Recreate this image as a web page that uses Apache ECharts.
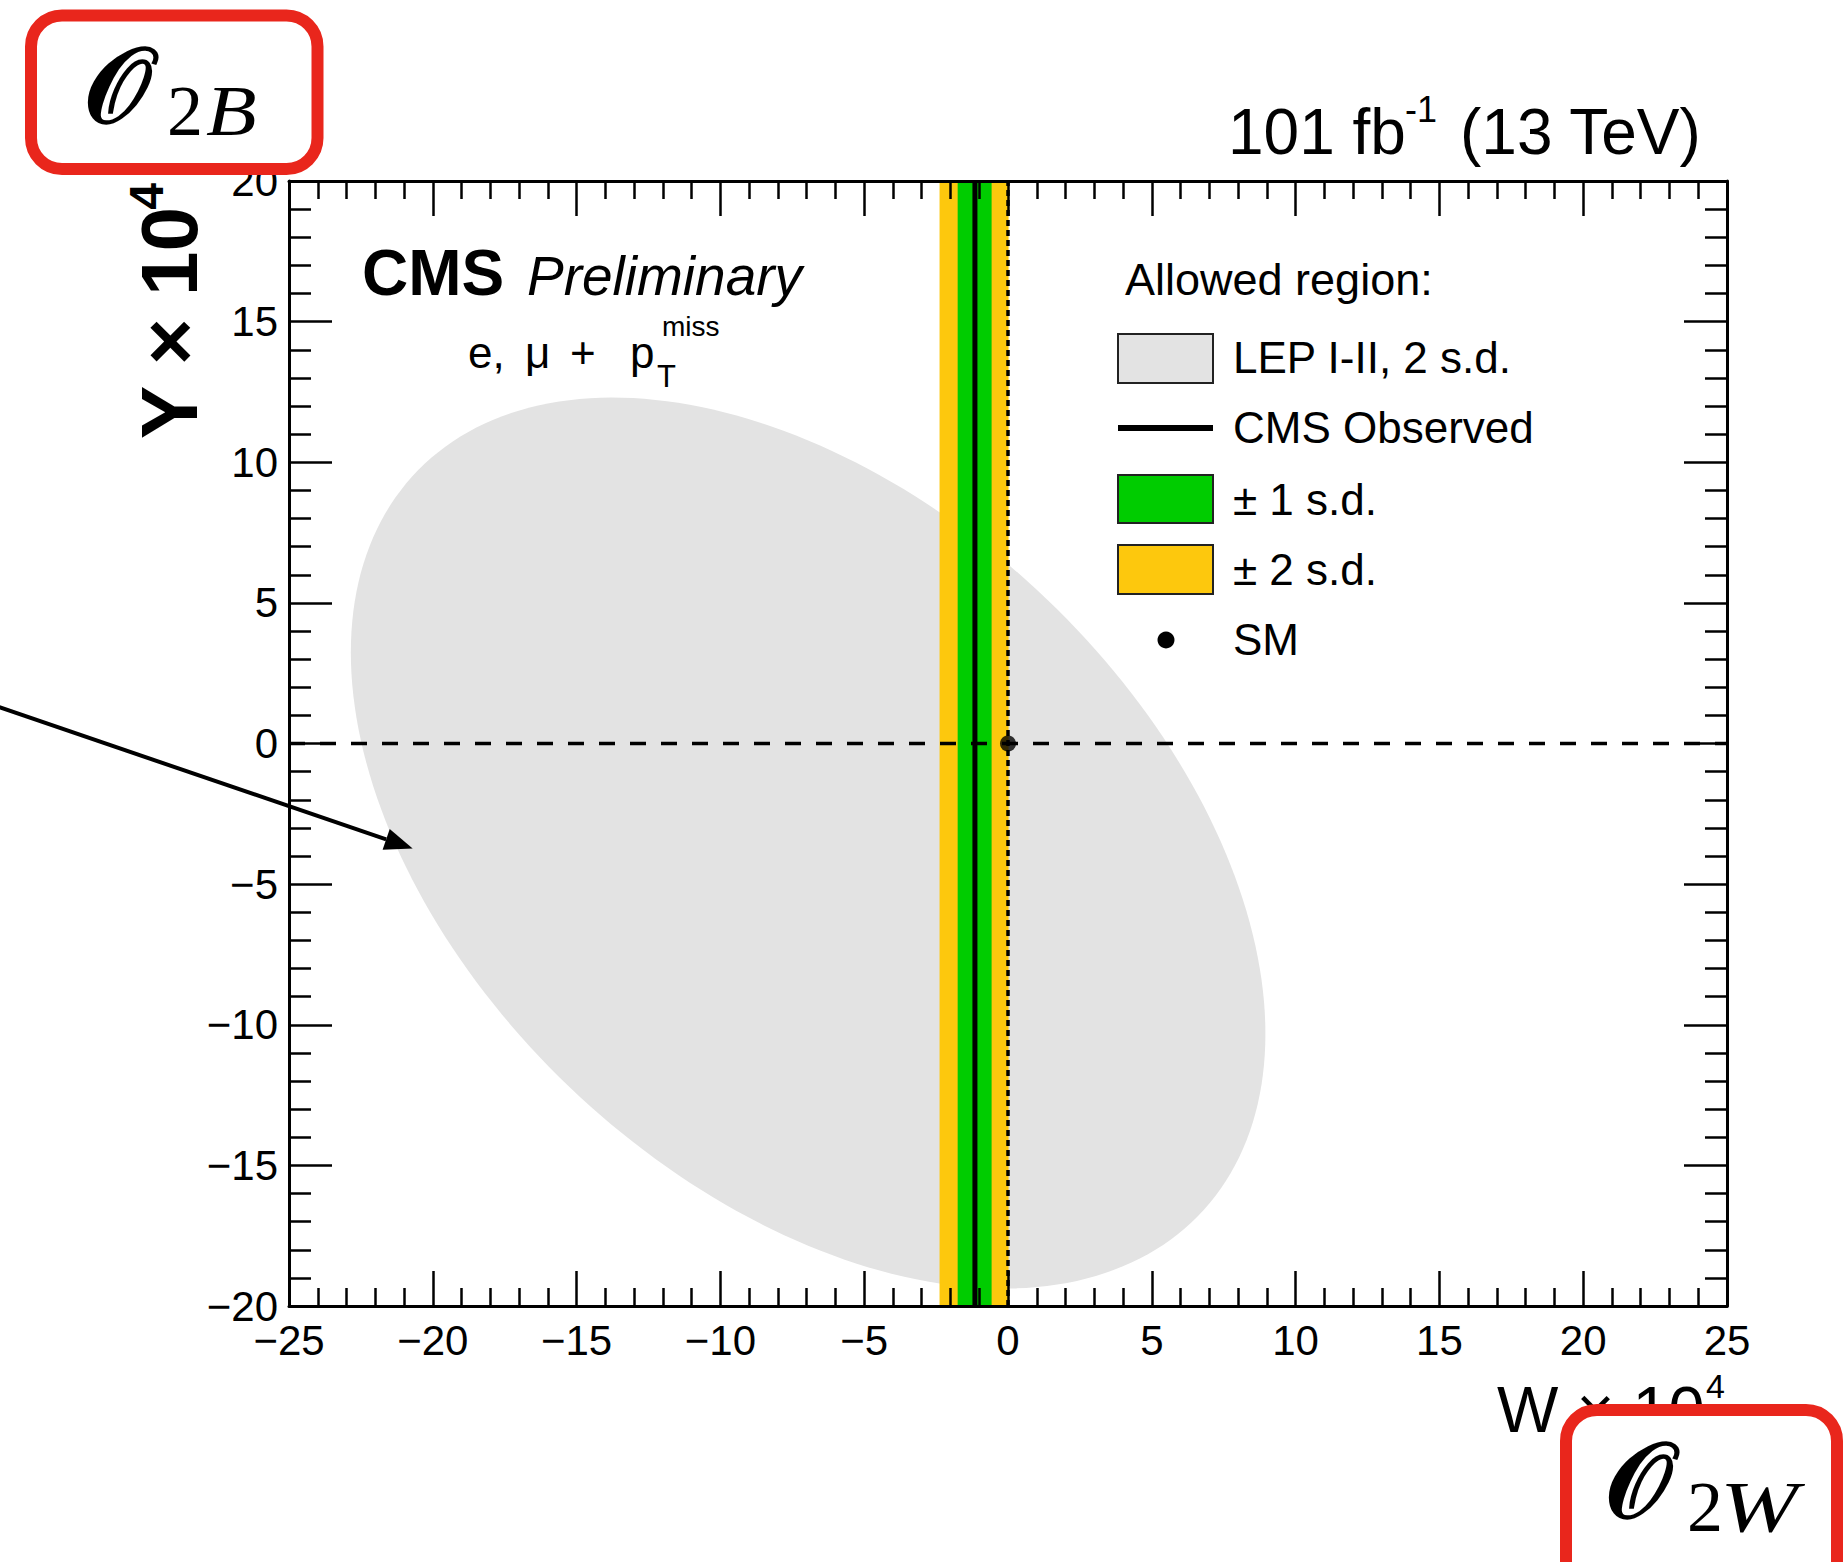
<!DOCTYPE html>
<html>
<head>
<meta charset="utf-8">
<script src="https://cdn.jsdelivr.net/npm/echarts@6/dist/echarts.min.js"></script>
<style>
  html, body { margin: 0; padding: 0; background: #fff; }
  #chart { width: 1845px; height: 1562px; }
</style>
</head>
<body>
<div id="chart"></div>
<script>
// Axis ranges, in units of 10^-4
const wRange = [-25, 25];
const yRange = [-20, 20];
const tickStep = 5;

// CMS observed W with its +-1 and +-2 s.d. intervals
const cmsObservedW = -1.15;
const cmsBand1sd = [-1.75, -0.57];
const cmsBand2sd = [-2.38, 0.02];

// Standard Model point (W, Y)
const smPoint = [0, 0];

// LEP I-II 2 s.d. allowed ellipse: centre, half extents along W and Y, correlation
const lepCenter = [-6.95, -3.54];
const lepHalfExtent = [15.9, 15.84];
const lepCorrelation = -0.428;

// Annotation arrow towards the LEP region, in (W, Y)
const arrowStart = [-35.1, 1.3];
const arrowEnd = [-20.7, -3.73];

const SANS = "'Liberation Sans', Arial, Helvetica, sans-serif";
const SERIF = "'Liberation Serif', 'DejaVu Serif', 'Times New Roman', serif";
const MATH = "'DejaVu Serif', 'DejaVu Sans', 'Liberation Serif', serif";

const chart = echarts.init(document.getElementById('chart'), null, { renderer: 'svg' });

const minus = v => String(v).replace('-', '\u2212');

function xAxisDef(position, showLabels) {
  return {
    type: 'value', position, min: wRange[0], max: wRange[1], interval: tickStep, z: 10,
    axisLine: { onZero: false, lineStyle: { color: '#000', width: 3 } },
    axisTick: { inside: true, length: 35, lineStyle: { color: '#000', width: 2.5 } },
    minorTick: { show: true, splitNumber: 5, length: 18, lineStyle: { color: '#000', width: 2.5 } },
    splitLine: { show: false }, minorSplitLine: { show: false },
    axisLabel: {
      show: showLabels, fontSize: 42, color: '#000', fontFamily: SANS, margin: 13,
      showMinLabel: true, showMaxLabel: true, formatter: minus
    }
  };
}
function yAxisDef(position, showLabels) {
  return {
    type: 'value', position, min: yRange[0], max: yRange[1], interval: tickStep, z: 10,
    axisLine: { onZero: false, lineStyle: { color: '#000', width: 3 } },
    axisTick: { inside: true, length: 43, lineStyle: { color: '#000', width: 2.5 } },
    minorTick: { show: true, splitNumber: 5, length: 22, lineStyle: { color: '#000', width: 2.5 } },
    splitLine: { show: false }, minorSplitLine: { show: false },
    axisLabel: {
      show: showLabels, fontSize: 42, color: '#000', fontFamily: SANS, margin: 11,
      padding: [10, 0, 0, 0], showMinLabel: true, showMaxLabel: true, formatter: minus
    }
  };
}

// Vertical band spanning the full Y range
function bandRenderer(color) {
  return function (params, api) {
    const a = api.coord([api.value(0), yRange[1]]);
    const b = api.coord([api.value(1), yRange[0]]);
    return { type: 'rect', shape: { x: a[0], y: a[1], width: b[0] - a[0], height: b[1] - a[1] }, style: { fill: color } };
  };
}

// 2 s.d. ellipse from centre, half extents and correlation
function ellipseRenderer(params, api) {
  const pts = [];
  const n = 240;
  const s = Math.sqrt(1 - lepCorrelation * lepCorrelation);
  for (let k = 0; k < n; k++) {
    const t = 2 * Math.PI * k / n;
    const w = api.value(0) + lepHalfExtent[0] * Math.cos(t);
    const y = api.value(1) + lepHalfExtent[1] * (lepCorrelation * Math.cos(t) + s * Math.sin(t));
    pts.push(api.coord([w, y]));
  }
  return { type: 'polygon', shape: { points: pts }, style: { fill: '#e3e3e3' } };
}

chart.setOption({
  animation: false,
  backgroundColor: '#fff',
  grid: { left: 289, top: 181, width: 1438, height: 1125, containLabel: false, outerBoundsMode: 'none' },
  xAxis: [xAxisDef('bottom', true), xAxisDef('top', false)],
  yAxis: [yAxisDef('left', true), yAxisDef('right', false)],
  series: [
    { type: 'custom', name: 'LEP I-II, 2 s.d.', renderItem: ellipseRenderer, data: [lepCenter], silent: true, z: 1 },
    { type: 'custom', name: '\u00b1 2 s.d.', renderItem: bandRenderer('#fdc80d'), data: [cmsBand2sd], silent: true, z: 2 },
    { type: 'custom', name: '\u00b1 1 s.d.', renderItem: bandRenderer('#00cc00'), data: [cmsBand1sd], silent: true, z: 3 },
    { type: 'line', symbol: 'none', silent: true, z: 4,
      data: [[wRange[0], smPoint[1]], [wRange[1], smPoint[1]]],
      lineStyle: { color: '#000', width: 3.5, type: [16, 15] } },
    { type: 'line', symbol: 'none', silent: true, z: 4,
      data: [[smPoint[0], yRange[0]], [smPoint[0], yRange[1]]],
      lineStyle: { color: '#000', width: 3.5, type: [6, 4] } },
    { type: 'line', name: 'CMS Observed', symbol: 'none', silent: true, z: 5,
      data: [[cmsObservedW, yRange[0]], [cmsObservedW, yRange[1]]],
      lineStyle: { color: '#000', width: 5 } },
    { type: 'scatter', name: 'SM', data: [smPoint], symbolSize: 16, itemStyle: { color: '#000' }, silent: true, z: 6 }
  ]
});

// text placed by its baseline
function txt(x, baseline, text, size, extra) {
  const st = Object.assign({ text, fontSize: size, fontFamily: SANS, fill: '#000',
    align: 'left', verticalAlign: 'middle', textAlign: 'left', textVerticalAlign: 'middle' }, extra || {});
  if (st.align !== 'left') st.textAlign = st.align;
  return { type: 'text', x, y: baseline - 0.35 * size, z: 50, style: st, silent: true };
}
function rotTxt(baselineX, endY, text, size, extra) {
  const st = Object.assign({ text, fontSize: size, fontFamily: SANS, fill: '#000',
    align: 'right', verticalAlign: 'middle', textAlign: 'right', textVerticalAlign: 'middle' }, extra || {});
  return { type: 'text', x: baselineX - 0.35 * size, y: endY, rotation: Math.PI / 2, z: 50, style: st, silent: true };
}
// symbols inside the red operator tags
function tagTxt(x, baseline, text, size, extra, scaleX) {
  const el = txt(x, baseline, text, size, Object.assign({ lineHeight: Math.round(size * 0.7) }, extra));
  el.z = 95;
  if (scaleX) el.scaleX = scaleX;
  return el;
}

const p0 = chart.convertToPixel({ gridIndex: 0 }, arrowStart);
const p1 = chart.convertToPixel({ gridIndex: 0 }, arrowEnd);
const dx = p1[0] - p0[0], dy = p1[1] - p0[1];
const len = Math.hypot(dx, dy);
const ux = dx / len, uy = dy / len;
const headLen = 28, headHalf = 11;
const base = [p1[0] - ux * headLen, p1[1] - uy * headLen];

const graphics = [
  // header
  txt(1228, 154, '101 fb', 64),
  txt(1405, 122, '-1', 36),
  txt(1460, 154, '(13 TeV)', 64),
  txt(362, 295, 'CMS', 64, { fontWeight: 'bold' }),
  txt(527, 295, 'Preliminary', 55, { fontStyle: 'italic' }),
  txt(468, 368, 'e,', 44),
  txt(525, 368, '\u03bc', 44),
  txt(570, 368, '+', 44),
  txt(630, 368, 'p', 44),
  txt(657, 387, 'T', 31),
  txt(662, 336, 'miss', 28),

  // axis titles
  rotTxt(197, 207, 'Y \u00d7 10', 80, { fontWeight: 'bold' }),
  rotTxt(163, 183, '4', 48, { fontWeight: 'bold' }),
  txt(1497, 1432, 'W \u00d7 10', 65),
  txt(1706, 1398, '4', 34),

  // legend
  txt(1125, 295, 'Allowed region:', 45),
  { type: 'rect', z: 50, shape: { x: 1118, y: 334, width: 95, height: 49 }, style: { fill: '#e3e3e3', stroke: '#222', lineWidth: 2 } },
  txt(1233, 373, 'LEP I-II, 2 s.d.', 44),
  { type: 'line', z: 50, shape: { x1: 1118, y1: 428, x2: 1213, y2: 428 }, style: { stroke: '#000', lineWidth: 6 } },
  txt(1233, 443, 'CMS Observed', 44),
  { type: 'rect', z: 50, shape: { x: 1118, y: 475, width: 95, height: 48 }, style: { fill: '#00cc00', stroke: '#222', lineWidth: 2 } },
  txt(1233, 515, '\u00b1 1 s.d.', 44),
  { type: 'rect', z: 50, shape: { x: 1118, y: 545, width: 95, height: 49 }, style: { fill: '#fdc80d', stroke: '#222', lineWidth: 2 } },
  txt(1233, 585, '\u00b1 2 s.d.', 44),
  { type: 'circle', z: 50, shape: { cx: 1166, cy: 640, r: 8.5 }, style: { fill: '#000' } },
  txt(1233, 655, 'SM', 44),

  // arrow
  { type: 'line', z: 50, shape: { x1: p0[0], y1: p0[1], x2: base[0], y2: base[1] }, style: { stroke: '#000', lineWidth: 4 } },
  { type: 'polygon', z: 50, shape: { points: [p1,
      [base[0] - uy * headHalf, base[1] + ux * headHalf],
      [base[0] + uy * headHalf, base[1] - ux * headHalf]] }, style: { fill: '#000' } },

  // operator tags
  { type: 'rect', z: 90, shape: { x: 31, y: 15.5, width: 286.5, height: 153.5, r: 31 }, style: { fill: '#fff', stroke: '#e9261c', lineWidth: 12 } },
  tagTxt(84, 122, '\ud835\udcaa', 106, { fontFamily: MATH, fontWeight: 'bold' }),
  tagTxt(167, 136, '2', 72, { fontFamily: SERIF }),
  tagTxt(206, 136, 'B', 72, { fontFamily: SERIF, fontStyle: 'italic' }, 1.15),

  { type: 'rect', z: 90, shape: { x: 1566, y: 1410, width: 271, height: 250, r: 31 }, style: { fill: '#fff', stroke: '#e9261c', lineWidth: 12 } },
  tagTxt(1605, 1517, '\ud835\udcaa', 106, { fontFamily: MATH, fontWeight: 'bold' }),
  tagTxt(1687, 1532, '2', 72, { fontFamily: SERIF }),
  tagTxt(1720, 1532, 'W', 72, { fontFamily: SERIF, fontStyle: 'italic' }, 1.3)
];

chart.setOption({ graphic: { elements: graphics } });
</script>
</body>
</html>
